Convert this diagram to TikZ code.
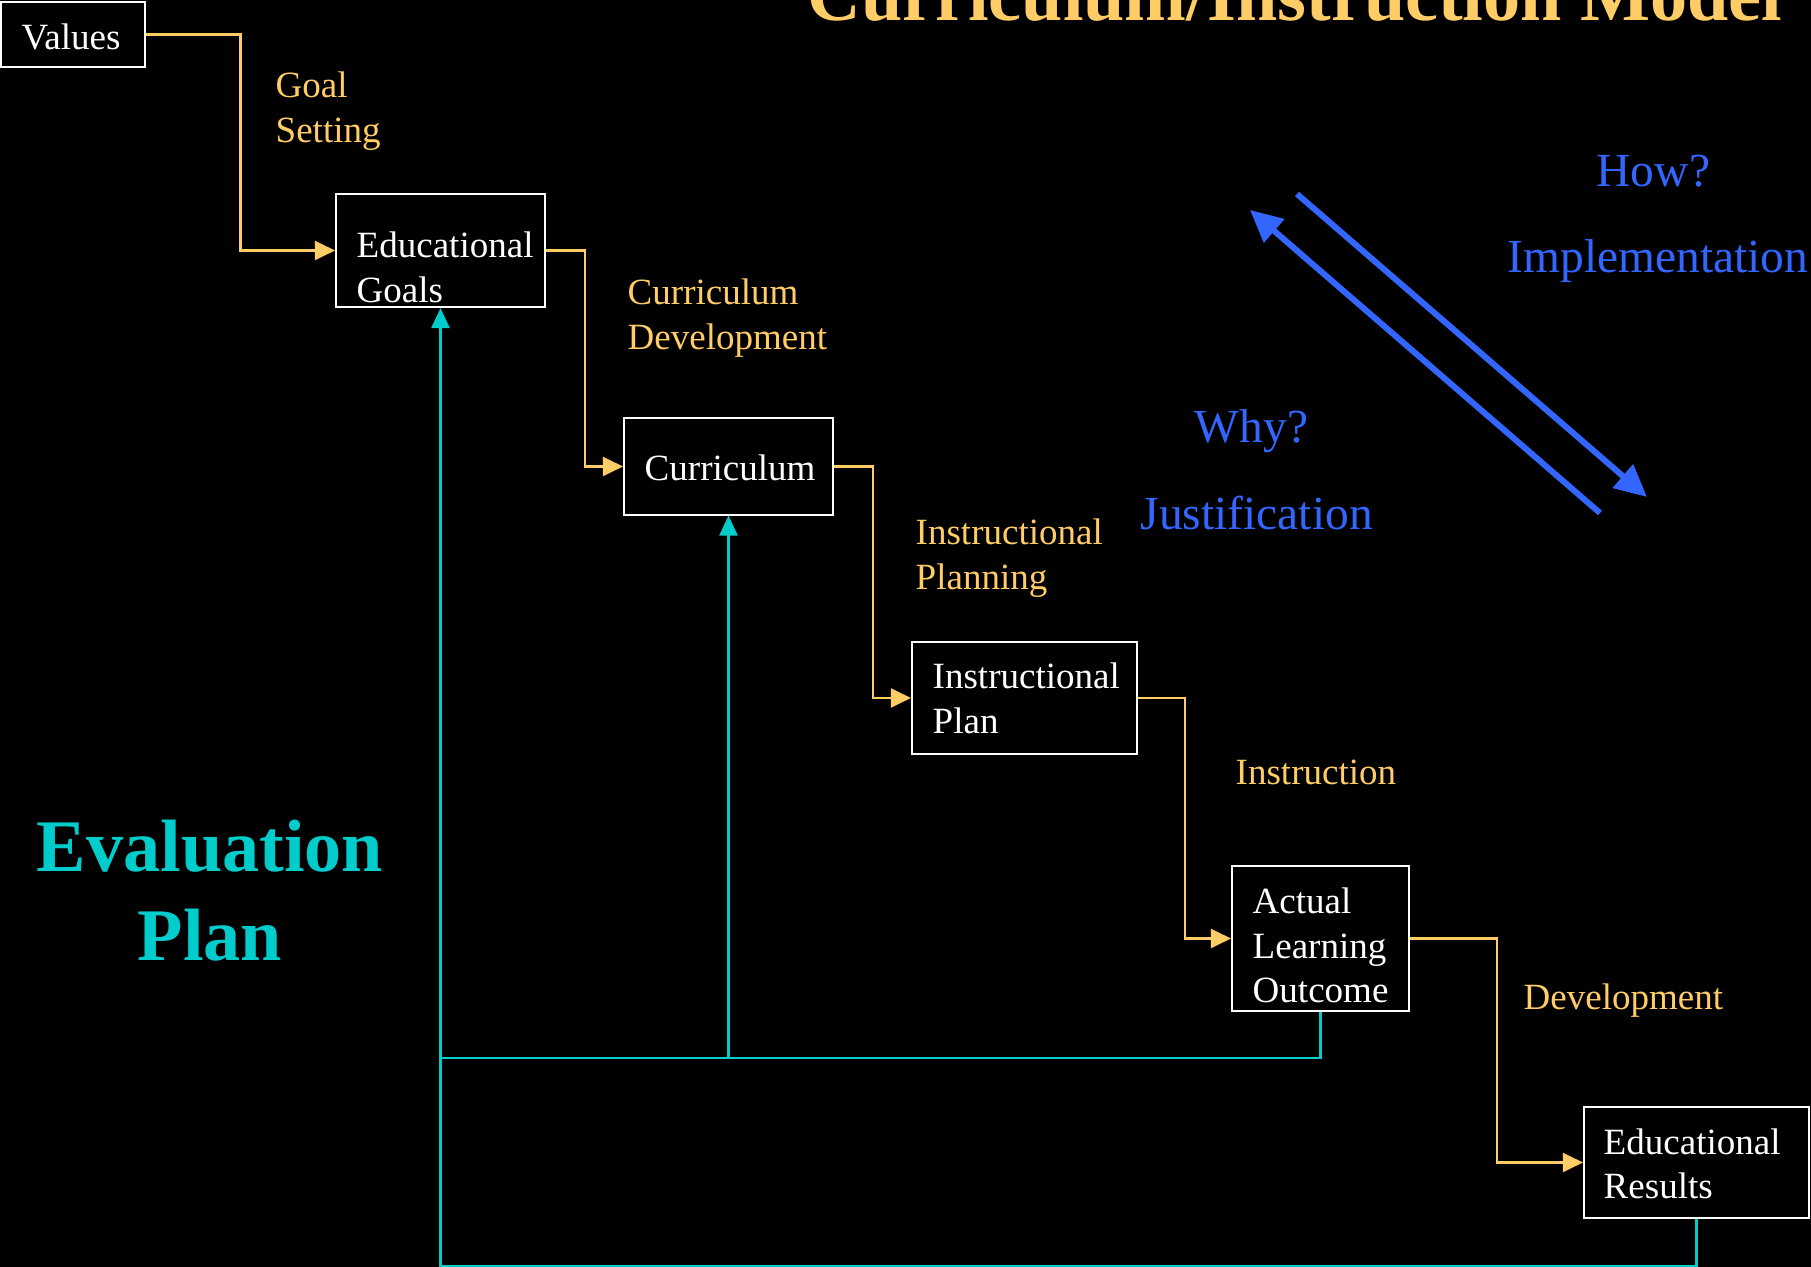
\documentclass[tikz,border=0pt]{standalone}
\usepackage{fontspec}
\setmainfont{Liberation Serif}
\usetikzlibrary{arrows.meta}
\definecolor{cyel}{RGB}{255,204,102}
\definecolor{ccyan}{RGB}{0,204,204}
\definecolor{cblue}{RGB}{51,102,255}
\newcommand{\boxfont}{\fontsize{10.53}{12.52}\selectfont}
\newcommand{\bluefont}{\fontsize{13.5}{16}\selectfont}
\newcommand{\bigfont}{\fontsize{21.1}{25.3}\selectfont\bfseries}
\newcommand{\twol}[2]{\vtop{\hbox{#1}\hbox{#2}}}
\newcommand{\threel}[3]{\vtop{\hbox{#1}\hbox{#2}\hbox{#3}}}
\tikzset{
  boxst/.style={draw=white, line width=0.57pt, rectangle, inner sep=0pt, fill=black},
  boxtext/.style={text=white, font=\boxfont, anchor=base west, inner sep=0pt},
  ylabel/.style={text=cyel, font=\boxfont, anchor=base west, inner sep=0pt},
  blabel/.style={text=cblue, font=\bluefont, anchor=base west, inner sep=0pt},
  yconn/.style={draw=cyel, line width=0.6pt, -{Triangle[length=0.2cm,width=0.19cm]}},
  cconn/.style={draw=ccyan, line width=0.7pt},
  carr/.style={cconn, -{Triangle[length=0.2cm,width=0.18cm]}},
  barr/.style={draw=cblue, line width=0.06cm, -{Triangle[length=0.32cm,width=0.3cm]}}
}
\begin{document}
\begin{tikzpicture}[x=0.01cm, y=-0.01cm]
\fill[black] (0,0) rectangle (1811,1267);
\useasboundingbox (0,0) rectangle (1811,1267);

% boxes
\node[boxst, minimum width=1.43cm, minimum height=0.65cm] (vals) at (73,34.5) {};
\node[boxst, minimum width=2.09cm, minimum height=1.13cm] (eg) at (440.5,250.5) {};
\node[boxst, minimum width=2.09cm, minimum height=0.96cm] (cur) at (728.5,466.5) {};
\node[boxst, minimum width=2.25cm, minimum height=1.12cm] (ip) at (1024.5,698) {};
\node[boxst, minimum width=1.77cm, minimum height=1.45cm] (alo) at (1320.5,938.5) {};
\node[boxst, minimum width=2.25cm, minimum height=1.11cm] (er) at (1696.5,1162.5) {};

% box texts
\node[boxtext] (tvals) at (21,50) {Values};
\node[boxtext] (teg) at (356,258) {\twol{Educational}{Goals}};
\node[boxtext] (tcur) at (644,481) {Curriculum};
\node[boxtext] (tip) at (932,689) {\twol{Instructional}{Plan}};
\node[boxtext] (talo) at (1252,914) {\threel{Actual}{Learning}{Outcome}};
\node[boxtext] (ter) at (1603,1154) {\twol{Educational}{Results}};

% yellow connectors
\draw[yconn] (vals.east) -- ++(95,0) |- (eg.west);
\draw[yconn] (eg.east) -- ++(39,0) |- (cur.west);
\draw[yconn] (cur.east) -- ++(39,0) |- (ip.west);
\draw[yconn] (ip.east) -- ++(47,0) |- (alo.west);
\draw[yconn] (alo.east) -- ++(87,0) |- (er.west);

% yellow labels
\node[ylabel] (lgoal) at (275,98) {\twol{Goal}{Setting}};
\node[ylabel] (lcd) at (627,305) {\twol{Curriculum}{Development}};
\node[ylabel] (lip) at (915,545) {\twol{Instructional}{Planning}};
\node[ylabel] (lin) at (1235,785) {Instruction};
\node[ylabel] (ldev) at (1523,1009) {Development};

% cyan feedback
\coordinate (busA) at (0,1058);
\coordinate (busB) at (0,1266);
\draw[carr] (er.south) -- (er.south |- busB) -| (eg.south);
\draw[cconn] (alo.south) -- (alo.south |- busA) -- (eg.south |- busA);
\draw[carr] (cur.south |- busA) -- (cur.south);

% blue arrows
\coordinate (b1s) at (1297,194);
\coordinate (b1e) at (1647,497);
\coordinate (b2s) at (1600,513);
\coordinate (b2e) at (1250,210);
\draw[barr] (b1s) -- (b1e);
\draw[barr] (b2s) -- (b2e);

% blue labels
\node[blabel] (lhow) at (1596,187) {How?};
\node[blabel] (limp) at (1507,273) {Implementation};
\node[blabel] (lwhy) at (1194,443) {Why?};
\node[blabel] (ljus) at (1140,530) {Justification};

% big texts
\node[text=ccyan, font=\bigfont, anchor=base, inner sep=0pt] (evp) at (210,872)
  {\vtop{\halign{\hfil#\hfil\cr Evaluation\cr Plan\cr}}};
\node[text=cyel, font=\bigfont, anchor=base, inner sep=0pt] (title) at (1295,21)
  {Curriculum/Instruction Model};
\end{tikzpicture}
\end{document}
